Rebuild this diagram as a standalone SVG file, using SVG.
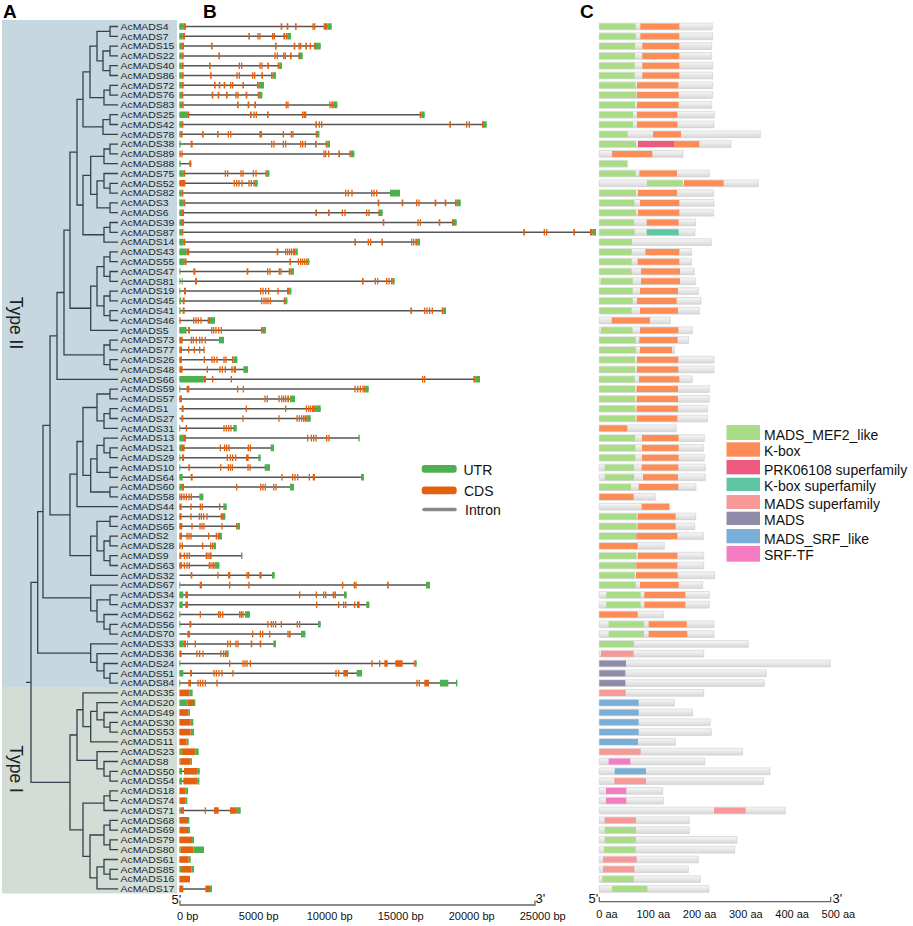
<svg xmlns="http://www.w3.org/2000/svg" width="913" height="926" viewBox="0 0 913 926">
<defs>
<linearGradient id="gb" x1="0" y1="0" x2="0" y2="1"><stop offset="0" stop-color="#f7f7f7"/><stop offset="1" stop-color="#d7d7d7"/></linearGradient>
<style>
.t{font-family:"Liberation Sans",Arial,sans-serif;font-size:8.7px;fill:#1e1e1e;transform:scale(1.2,1)}
.lg{font-family:"Liberation Sans",Arial,sans-serif;font-size:14px;fill:#111}
.ax{font-family:"Liberation Sans",Arial,sans-serif;font-size:11px;fill:#111;text-anchor:middle}
.pl{font-family:"Liberation Sans",Arial,sans-serif;font-size:19px;font-weight:bold;fill:#000}
.ty{font-family:"Liberation Sans",Arial,sans-serif;font-size:17.5px;fill:#222;text-anchor:middle}
.i{fill:none;stroke:#555;stroke-width:1.5}
.u{fill:none;stroke:#4cb04e;stroke-width:6.6}
.c{fill:none;stroke:#e2600f;stroke-width:6.6}
.b{fill:url(#gb);stroke:#cdcdcd;stroke-width:.6;vector-effect:non-scaling-stroke}
.mf,.kb,.pr,.ks,.ms,.md,.sr,.tf{fill:none;stroke-width:6}
.mf{stroke:#a9dc86}.kb{stroke:#fd8c57}.pr{stroke:#ee5a7e}.ks{stroke:#5fc5a2}.ms{stroke:#f79a97}.md{stroke:#8f8ba8}.sr{stroke:#7aaed6}.tf{stroke:#f57cc2}
.tree{fill:none;stroke:#33414b;stroke-width:1.3}
</style>
</defs>
<rect width="913" height="926" fill="#fff"/>
<g id="backgrounds">
<rect x="2" y="20" width="175" height="667" fill="#c7d7e0"/>
<rect x="2" y="687" width="175" height="206.5" fill="#d3ddd6"/>
<text class="ty" transform="translate(9.5 323) rotate(90)">Type II</text>
<text class="ty" transform="translate(9.5 769) rotate(90)">Type I</text>
</g>
<g id="panel-labels">
<text class="pl" x="3" y="18.3">A</text>
<text class="pl" x="203" y="18.3">B</text>
<text class="pl" x="580" y="18.3">C</text>
</g>
<g id="connectors" class="tree">
<path d="M118 26.5H110V36.3H118M118 46.1H110V55.9H118M118 65.7H110V75.5H118M110 51H103V70.6H110M110 31.4H97V60.8H103M118 85.3H110V95.1H118M110 90.2H104V104.9H118M97 46.1H90V97.55H104M118 114.7H110V124.5H118M110 119.6H103V134.3H118M90 71.8H83V126.95H103"/>
<path d="M118 144.1H110V153.9H118M110 149H104V163.7H118M118 183.3H110V193.1H118M118 173.5H104V188.2H110M118 202.9H110V212.7H118M104 180.85H97V207.8H110M104 156.35H90.7V194.3H97M118 222.5H110V232.3H118M110 227.4H104V242.1H118M90.7 175.3H83V234.75H104M83 99.4H77V205H83"/>
<path d="M118 251.9H110V261.7H118M118 271.5H110V281.3H118M110 256.8H104V276.4H110M118 291.1H110V300.9H118M118 310.7H110V320.5H118M110 296H104V315.6H110M104 266.6H97V305.8H104M97 286.2H90.7V330.3H118M77 152.2H70V308.25H90.7"/>
<path d="M118 340.1H110V349.9H118M118 359.7H110V369.5H118M110 345H104V364.6H110M70 230.2H64V354.8H104M64 292.5H57V379.3H118"/>
<path d="M118 389.1H110V398.9H118M118 408.7H110V418.5H118M110 413.6H104V428.3H118M110 394H97V420.95H104M118 447.9H110V457.7H118M118 438.1H104V452.8H110M118 467.5H110V477.3H118M104 445.45H97V472.4H110M118 487.1H110V496.9H118M97 458.9H90.7V492H110M97 407.5H83V475.45H90.7M83 441.5H77V506.7H118"/>
<path d="M118 516.5H110V526.3H118M118 536.1H110V545.9H118M118 555.7H110V565.5H118M110 541H104V560.6H110M110 521.4H97V550.8H104M97 536.1H90.7V575.3H118M77 474.1H70V555.7H90.7M57 335.9H50V514.9H70"/>
<path d="M118 594.9H110V604.7H118M118 624.3H110V634.1H118M118 614.5H104V629.2H110M110 599.8H97V621.85H104M118 585.1H90.7V610.8H97M50 425.4H43V597.95H90.7"/>
<path d="M118 673.3H110V683.1H118M118 663.5H104V678.2H110M118 653.7H97V670.85H104M118 643.9H90.7V662.3H97M43 511.7H37.7V653.1H90.7"/>
<path d="M118 722.3H110V732.1H118M118 712.5H104V727.2H110M118 702.7H97V719.85H104M97 711.3H90.7V741.9H118M118 692.9H83V726.6H90.7M118 771.3H110V781.1H118M118 761.5H104V776.2H110M118 751.7H97V768.85H104M83 709.75H77V760.3H97M118 790.9H110V800.7H118M110 795.8H104V810.5H118M118 820.3H110V830.1H118M118 839.9H110V849.7H118M110 825.2H104V844.8H110M118 869.3H110V879.1H118M118 859.5H104V874.2H110M104 866.85H97V888.9H118M104 835H90V877.9H97M104 803.15H83V856.45H90M77 735H70V829.8H83"/>
<path d="M37.7 582.4H31V782.4H70M31 682.4H26"/>
</g>
<g id="genes">
<g id="AcMADS4" transform="translate(0 26.5)"><text class="t" x="100.4" y="3.2">AcMADS4</text><g transform="matrix(.33333 0 0 1 170 0)"><path class="i" d="M28 0H485"/><path class="u" d="M28 0H40M472 0H485"/><path class="c" d="M40 0H48M332 0h5M350 0h5M375 0h5M427 0h4M432 0h4M461 0h4M465 0h7"/></g><g transform="matrix(.33333 0 0 1 590 0)"><rect class="b" x="28" y="-3.4" width="339" height="6.8"/><path class="mf" d="M28 0H137"/><path class="kb" d="M151 0H268"/></g></g>
<g id="AcMADS7" transform="translate(0 36.3)"><text class="t" x="100.4" y="3.2">AcMADS7</text><g transform="matrix(.33333 0 0 1 170 0)"><path class="i" d="M28 0H363"/><path class="u" d="M28 0H38M352 0H363"/><path class="c" d="M38 0H45M235 0h5M262 0h4M268 0h4M306 0h4M311 0h4M340 0h5M347 0h5"/></g><g transform="matrix(.33333 0 0 1 590 0)"><rect class="b" x="28" y="-3.4" width="340" height="6.8"/><path class="mf" d="M28 0H137"/><path class="kb" d="M151 0H268"/></g></g>
<g id="AcMADS15" transform="translate(0 46.1)"><text class="t" x="100.4" y="3.2">AcMADS15</text><g transform="matrix(.33333 0 0 1 170 0)"><path class="i" d="M28 0H452"/><path class="u" d="M28 0H36M438 0H452"/><path class="c" d="M36 0H42M123 0h5M315 0h5M371 0h5M385 0h4M390 0h4M406 0h5M419 0h4M432 0h6"/></g><g transform="matrix(.33333 0 0 1 590 0)"><rect class="b" x="28" y="-3.4" width="337" height="6.8"/><path class="mf" d="M28 0H135"/><path class="kb" d="M157 0H268"/></g></g>
<g id="AcMADS22" transform="translate(0 55.9)"><text class="t" x="100.4" y="3.2">AcMADS22</text><g transform="matrix(.33333 0 0 1 170 0)"><path class="i" d="M28 0H398"/><path class="u" d="M28 0H35M390 0H398"/><path class="c" d="M35 0H41M145 0h5M313 0h4M320 0h4M339 0h4M344 0h4M360 0h5M385 0h5"/></g><g transform="matrix(.33333 0 0 1 590 0)"><rect class="b" x="28" y="-3.4" width="337" height="6.8"/><path class="mf" d="M28 0H135"/><path class="kb" d="M157 0H268"/></g></g>
<g id="AcMADS40" transform="translate(0 65.7)"><text class="t" x="100.4" y="3.2">AcMADS40</text><g transform="matrix(.33333 0 0 1 170 0)"><path class="i" d="M28 0H336"/><path class="u" d="M28 0H35M328 0H336"/><path class="c" d="M35 0H41M117 0h5M206 0h4M213 0h4M268 0h4M274 0h4M292 0h5M323 0h5"/></g><g transform="matrix(.33333 0 0 1 590 0)"><rect class="b" x="28" y="-3.4" width="340" height="6.8"/><path class="mf" d="M28 0H134"/><path class="kb" d="M157 0H268"/></g></g>
<g id="AcMADS86" transform="translate(0 75.5)"><text class="t" x="100.4" y="3.2">AcMADS86</text><g transform="matrix(.33333 0 0 1 170 0)"><path class="i" d="M28 0H318"/><path class="u" d="M28 0H34M308 0H318"/><path class="c" d="M34 0H41M120 0h5M199 0h4M206 0h4M246 0h4M252 0h4M274 0h5M303 0h5"/></g><g transform="matrix(.33333 0 0 1 590 0)"><rect class="b" x="28" y="-3.4" width="340" height="6.8"/><path class="mf" d="M28 0H134"/><path class="kb" d="M157 0H268"/></g></g>
<g id="AcMADS72" transform="translate(0 85.3)"><text class="t" x="100.4" y="3.2">AcMADS72</text><g transform="matrix(.33333 0 0 1 170 0)"><path class="i" d="M28 0H282"/><path class="u" d="M28 0H35M266 0H282"/><path class="c" d="M35 0H41M132 0h5M146 0h5M161 0h5M180 0h4M186 0h4M217 0h5M261 0h5"/></g><g transform="matrix(.33333 0 0 1 590 0)"><rect class="b" x="28" y="-3.4" width="340" height="6.8"/><path class="mf" d="M28 0H137"/><path class="kb" d="M141 0H265"/></g></g>
<g id="AcMADS76" transform="translate(0 95.1)"><text class="t" x="100.4" y="3.2">AcMADS76</text><g transform="matrix(.33333 0 0 1 170 0)"><path class="i" d="M28 0H277"/><path class="u" d="M28 0H34M267 0H277"/><path class="c" d="M34 0H40M125 0h5M143 0h5M168 0h5M196 0h4M202 0h4M227 0h5M263 0h4"/></g><g transform="matrix(.33333 0 0 1 590 0)"><rect class="b" x="28" y="-3.4" width="340" height="6.8"/><path class="mf" d="M28 0H139"/><path class="kb" d="M141 0H266"/></g></g>
<g id="AcMADS83" transform="translate(0 104.9)"><text class="t" x="100.4" y="3.2">AcMADS83</text><g transform="matrix(.33333 0 0 1 170 0)"><path class="i" d="M28 0H502"/><path class="u" d="M28 0H34M490 0H502"/><path class="c" d="M34 0H41M201 0h5M233 0h5M253 0h5M347 0h4M352 0h4M478 0h4M484 0h6"/></g><g transform="matrix(.33333 0 0 1 590 0)"><rect class="b" x="28" y="-3.4" width="337" height="6.8"/><path class="mf" d="M28 0H135"/><path class="kb" d="M141 0H266"/></g></g>
<g id="AcMADS25" transform="translate(0 114.7)"><text class="t" x="100.4" y="3.2">AcMADS25</text><g transform="matrix(.33333 0 0 1 170 0)"><path class="i" d="M28 0H764"/><path class="u" d="M28 0H52M754 0H764"/><path class="c" d="M52 0H58M240 0h5M250 0h4M257 0h4M291 0h5M396 0h4M401 0h4M405 0h4M749 0h5"/></g><g transform="matrix(.33333 0 0 1 590 0)"><rect class="b" x="28" y="-3.4" width="345" height="6.8"/><path class="mf" d="M28 0H129"/><path class="kb" d="M141 0H262"/></g></g>
<g id="AcMADS42" transform="translate(0 124.5)"><text class="t" x="100.4" y="3.2">AcMADS42</text><g transform="matrix(.33333 0 0 1 170 0)"><path class="i" d="M28 0H950"/><path class="u" d="M28 0H34M942 0H950"/><path class="c" d="M34 0H40M436 0h5M446 0h4M453 0h4M838 0h5M888 0h4M896 0h4M936 0h6"/></g><g transform="matrix(.33333 0 0 1 590 0)"><rect class="b" x="28" y="-3.4" width="344" height="6.8"/><path class="mf" d="M28 0H129"/><path class="kb" d="M141 0H262"/></g></g>
<g id="AcMADS78" transform="translate(0 134.3)"><text class="t" x="100.4" y="3.2">AcMADS78</text><g transform="matrix(.33333 0 0 1 170 0)"><path class="i" d="M28 0H448"/><path class="u" d="M28 0H32M441 0H448"/><path class="c" d="M32 0H38M96 0h5M141 0h5M173 0h4M180 0h4M268 0h8M338 0h4M362 0h4M367 0h4M437 0h4"/></g><g transform="matrix(.33333 0 0 1 590 0)"><rect class="b" x="28" y="-3.4" width="483" height="6.8"/><path class="mf" d="M28 0H113"/><path class="kb" d="M189 0H273"/></g></g>
<g id="AcMADS38" transform="translate(0 144.1)"><text class="t" x="100.4" y="3.2">AcMADS38</text><g transform="matrix(.33333 0 0 1 170 0)"><path class="i" d="M28 0H480"/><path class="u" d="M28 0H32M472 0H480"/><path class="c" d="M62 0H68M303 0h4M310 0h4M338 0h4M345 0h4M390 0h4M396 0h4M404 0h4M435 0h5M467 0h5"/></g><g transform="matrix(.33333 0 0 1 590 0)"><rect class="b" x="28" y="-3.4" width="395" height="6.8"/><path class="mf" d="M28 0H138"/><path class="pr" d="M144 0H252"/><path class="kb" d="M252 0H328"/></g></g>
<g id="AcMADS89" transform="translate(0 153.9)"><text class="t" x="100.4" y="3.2">AcMADS89</text><g transform="matrix(.33333 0 0 1 170 0)"><path class="i" d="M28 0H553"/><path class="u" d="M542 0H553"/><path class="c" d="M28 0h4M34 0h4M460 0h4M465 0h4M474 0h4M505 0h5M538 0h4"/></g><g transform="matrix(.33333 0 0 1 590 0)"><rect class="b" x="28" y="-3.4" width="251" height="6.8"/><path class="kb" d="M66 0H187"/></g></g>
<g id="AcMADS88" transform="translate(0 163.7)"><text class="t" x="100.4" y="3.2">AcMADS88</text><g transform="matrix(.33333 0 0 1 170 0)"><path class="i" d="M28 0H64"/><path class="u" d="M28 0H32"/><path class="c" d="M58 0H64"/></g><g transform="matrix(.33333 0 0 1 590 0)"><rect class="b" x="28" y="-3.4" width="85" height="6.8"/><path class="mf" d="M28 0H111"/></g></g>
<g id="AcMADS75" transform="translate(0 173.5)"><text class="t" x="100.4" y="3.2">AcMADS75</text><g transform="matrix(.33333 0 0 1 170 0)"><path class="i" d="M28 0H298"/><path class="u" d="M28 0H40M290 0H298"/><path class="c" d="M40 0H46M164 0h4M171 0h4M211 0h4M217 0h4M248 0h4M256 0h4M286 0h4"/></g><g transform="matrix(.33333 0 0 1 590 0)"><rect class="b" x="28" y="-3.4" width="330" height="6.8"/><path class="mf" d="M28 0H137"/><path class="kb" d="M148 0H261"/></g></g>
<g id="AcMADS52" transform="translate(0 183.3)"><text class="t" x="100.4" y="3.2">AcMADS52</text><g transform="matrix(.33333 0 0 1 170 0)"><path class="i" d="M28 0H263"/><path class="u" d="M254 0H263"/><path class="c" d="M28 0H46M191 0h4M198 0h4M205 0h4M214 0h4M235 0h4M242 0h4M250 0h4"/></g><g transform="matrix(.33333 0 0 1 590 0)"><rect class="b" x="28" y="-3.4" width="477" height="6.8"/><path class="mf" d="M171 0H278"/><path class="kb" d="M282 0H401"/></g></g>
<g id="AcMADS82" transform="translate(0 193.1)"><text class="t" x="100.4" y="3.2">AcMADS82</text><g transform="matrix(.33333 0 0 1 170 0)"><path class="i" d="M28 0H690"/><path class="u" d="M28 0H35M660 0H690"/><path class="c" d="M35 0H40M525 0h4M533 0h4M544 0h4M603 0h4M610 0h4M618 0h4"/></g><g transform="matrix(.33333 0 0 1 590 0)"><rect class="b" x="28" y="-3.4" width="343" height="6.8"/><path class="mf" d="M28 0H138"/><path class="kb" d="M144 0H261"/></g></g>
<g id="AcMADS3" transform="translate(0 202.9)"><text class="t" x="100.4" y="3.2">AcMADS3</text><g transform="matrix(.33333 0 0 1 170 0)"><path class="i" d="M28 0H872"/><path class="u" d="M28 0H40M860 0H872"/><path class="c" d="M40 0H46M623 0h5M695 0h5M738 0h4M745 0h4M794 0h5M824 0h5M855 0h5"/></g><g transform="matrix(.33333 0 0 1 590 0)"><rect class="b" x="28" y="-3.4" width="344" height="6.8"/><path class="mf" d="M28 0H133"/><path class="kb" d="M150 0H268"/></g></g>
<g id="AcMADS6" transform="translate(0 212.7)"><text class="t" x="100.4" y="3.2">AcMADS6</text><g transform="matrix(.33333 0 0 1 170 0)"><path class="i" d="M28 0H638"/><path class="u" d="M28 0H36M630 0H638"/><path class="c" d="M36 0H42M436 0h5M474 0h5M515 0h4M523 0h4M588 0h4M595 0h4M625 0h5"/></g><g transform="matrix(.33333 0 0 1 590 0)"><rect class="b" x="28" y="-3.4" width="343" height="6.8"/><path class="mf" d="M28 0H138"/><path class="kb" d="M144 0H268"/></g></g>
<g id="AcMADS39" transform="translate(0 222.5)"><text class="t" x="100.4" y="3.2">AcMADS39</text><g transform="matrix(.33333 0 0 1 170 0)"><path class="i" d="M28 0H860"/><path class="u" d="M28 0H36M852 0H860"/><path class="c" d="M36 0H42M638 0h5M742 0h4M749 0h4M806 0h5M846 0h6"/></g><g transform="matrix(.33333 0 0 1 590 0)"><rect class="b" x="28" y="-3.4" width="289" height="6.8"/><path class="mf" d="M28 0H132"/><path class="kb" d="M170 0H266"/></g></g>
<g id="AcMADS87" transform="translate(0 232.3)"><text class="t" x="100.4" y="3.2">AcMADS87</text><g transform="matrix(.33333 0 0 1 170 0)"><path class="i" d="M28 0H1278"/><path class="u" d="M28 0H34M1268 0H1278"/><path class="c" d="M34 0H40M1060 0h5M1121 0h4M1128 0h4M1210 0h5M1260 0h8"/></g><g transform="matrix(.33333 0 0 1 590 0)"><rect class="b" x="28" y="-3.4" width="287" height="6.8"/><path class="mf" d="M28 0H134"/><path class="ks" d="M170 0H266"/></g></g>
<g id="AcMADS14" transform="translate(0 242.1)"><text class="t" x="100.4" y="3.2">AcMADS14</text><g transform="matrix(.33333 0 0 1 170 0)"><path class="i" d="M28 0H750"/><path class="u" d="M28 0H40M742 0H750"/><path class="c" d="M40 0H46M553 0h5M593 0h4M600 0h4M634 0h5M723 0h4M729 0h4M736 0h6"/></g><g transform="matrix(.33333 0 0 1 590 0)"><rect class="b" x="28" y="-3.4" width="336" height="6.8"/><path class="mf" d="M28 0H126"/></g></g>
<g id="AcMADS43" transform="translate(0 251.9)"><text class="t" x="100.4" y="3.2">AcMADS43</text><g transform="matrix(.33333 0 0 1 170 0)"><path class="i" d="M28 0H383"/><path class="u" d="M28 0H50M376 0H383"/><path class="c" d="M50 0H58M320 0h5M345 0h4M351 0h4M357 0h4M363 0h4M369 0h7"/></g><g transform="matrix(.33333 0 0 1 590 0)"><rect class="b" x="28" y="-3.4" width="277" height="6.8"/><path class="mf" d="M28 0H125"/><path class="kb" d="M166 0H268"/></g></g>
<g id="AcMADS55" transform="translate(0 261.7)"><text class="t" x="100.4" y="3.2">AcMADS55</text><g transform="matrix(.33333 0 0 1 170 0)"><path class="i" d="M28 0H418"/><path class="u" d="M28 0H44M412 0H418"/><path class="c" d="M44 0H50M358 0h5M383 0h4M390 0h4M396 0h4M402 0h4M408 0h4"/></g><g transform="matrix(.33333 0 0 1 590 0)"><rect class="b" x="28" y="-3.4" width="277" height="6.8"/><path class="mf" d="M28 0H125"/><path class="kb" d="M143 0H268"/></g></g>
<g id="AcMADS47" transform="translate(0 271.5)"><text class="t" x="100.4" y="3.2">AcMADS47</text><g transform="matrix(.33333 0 0 1 170 0)"><path class="i" d="M28 0H372"/><path class="u" d="M28 0H31M362 0H372"/><path class="c" d="M70 0H76M230 0h5M291 0h4M298 0h4M326 0h4M331 0h4M356 0h6"/></g><g transform="matrix(.33333 0 0 1 590 0)"><rect class="b" x="28" y="-3.4" width="285" height="6.8"/><path class="mf" d="M28 0H125"/><path class="kb" d="M153 0H270"/></g></g>
<g id="AcMADS81" transform="translate(0 281.3)"><text class="t" x="100.4" y="3.2">AcMADS81</text><g transform="matrix(.33333 0 0 1 170 0)"><path class="i" d="M28 0H674"/><path class="u" d="M28 0H31M35 0H38M668 0H674"/><path class="c" d="M75 0H81M576 0h5M614 0h4M621 0h4M648 0h4M655 0h4M663 0h5"/></g><g transform="matrix(.33333 0 0 1 590 0)"><rect class="b" x="28" y="-3.4" width="289" height="6.8"/><path class="mf" d="M32 0H128"/><path class="kb" d="M153 0H270"/></g></g>
<g id="AcMADS19" transform="translate(0 291.1)"><text class="t" x="100.4" y="3.2">AcMADS19</text><g transform="matrix(.33333 0 0 1 170 0)"><path class="i" d="M28 0H364"/><path class="u" d="M28 0H31M358 0H364"/><path class="c" d="M42 0H48M270 0h4M277 0h4M285 0h4M294 0h4M322 0h4M351 0h7"/></g><g transform="matrix(.33333 0 0 1 590 0)"><rect class="b" x="28" y="-3.4" width="297" height="6.8"/><path class="mf" d="M28 0H128"/><path class="kb" d="M150 0H264"/></g></g>
<g id="AcMADS45" transform="translate(0 300.9)"><text class="t" x="100.4" y="3.2">AcMADS45</text><g transform="matrix(.33333 0 0 1 170 0)"><path class="i" d="M28 0H352"/><path class="u" d="M28 0H33M347 0H352"/><path class="c" d="M38 0H44M273 0h4M280 0h4M286 0h4M292 0h4M299 0h4M341 0h6"/></g><g transform="matrix(.33333 0 0 1 590 0)"><rect class="b" x="28" y="-3.4" width="305" height="6.8"/><path class="mf" d="M28 0H128"/><path class="kb" d="M141 0H260"/></g></g>
<g id="AcMADS41" transform="translate(0 310.7)"><text class="t" x="100.4" y="3.2">AcMADS41</text><g transform="matrix(.33333 0 0 1 170 0)"><path class="i" d="M28 0H828"/><path class="u" d="M28 0H32M820 0H828"/><path class="c" d="M38 0H44M721 0h5M762 0h4M769 0h4M777 0h4M785 0h4M815 0h5"/></g><g transform="matrix(.33333 0 0 1 590 0)"><rect class="b" x="28" y="-3.4" width="300" height="6.8"/><path class="mf" d="M28 0H125"/><path class="kb" d="M150 0H264"/></g></g>
<g id="AcMADS46" transform="translate(0 320.5)"><text class="t" x="100.4" y="3.2">AcMADS46</text><g transform="matrix(.33333 0 0 1 170 0)"><path class="i" d="M28 0H135"/><path class="u" d="M120 0H135"/><path class="c" d="M28 0H32M69 0h4M76 0h4M83 0h4M91 0h4M113 0h7"/></g><g transform="matrix(.33333 0 0 1 590 0)"><rect class="b" x="28" y="-3.4" width="213" height="6.8"/><path class="kb" d="M65 0H180"/></g></g>
<g id="AcMADS5" transform="translate(0 330.3)"><text class="t" x="100.4" y="3.2">AcMADS5</text><g transform="matrix(.33333 0 0 1 170 0)"><path class="i" d="M28 0H288"/><path class="u" d="M28 0H50M278 0H288"/><path class="c" d="M54 0H60M123 0h4M129 0h4M136 0h4M144 0h4M152 0h4M273 0h5"/></g><g transform="matrix(.33333 0 0 1 590 0)"><rect class="b" x="28" y="-3.4" width="279" height="6.8"/><path class="mf" d="M33 0H128"/><path class="kb" d="M150 0H265"/></g></g>
<g id="AcMADS73" transform="translate(0 340.1)"><text class="t" x="100.4" y="3.2">AcMADS73</text><g transform="matrix(.33333 0 0 1 170 0)"><path class="i" d="M28 0H162"/><path class="u" d="M147 0H162"/><path class="c" d="M28 0H38M62 0h4M68 0h4M77 0h4M87 0h4M94 0h4M104 0h4"/></g><g transform="matrix(.33333 0 0 1 590 0)"><rect class="b" x="28" y="-3.4" width="268" height="6.8"/><path class="mf" d="M28 0H137"/><path class="kb" d="M148 0H263"/></g></g>
<g id="AcMADS77" transform="translate(0 349.9)"><text class="t" x="100.4" y="3.2">AcMADS77</text><g transform="matrix(.33333 0 0 1 170 0)"><path class="i" d="M28 0H104"/><path class="c" d="M28 0H36M54 0h4M71 0h4M87 0h4M100 0h4"/></g><g transform="matrix(.33333 0 0 1 590 0)"><rect class="b" x="28" y="-3.4" width="225" height="6.8"/><path class="mf" d="M28 0H137"/><path class="kb" d="M150 0H246"/></g></g>
<g id="AcMADS26" transform="translate(0 359.7)"><text class="t" x="100.4" y="3.2">AcMADS26</text><g transform="matrix(.33333 0 0 1 170 0)"><path class="i" d="M28 0H202"/><path class="u" d="M190 0H202"/><path class="c" d="M28 0H36M101 0h4M124 0h4M131 0h4M139 0h4M160 0h4M166 0h4M186 0h4"/></g><g transform="matrix(.33333 0 0 1 590 0)"><rect class="b" x="28" y="-3.4" width="344" height="6.8"/><path class="mf" d="M28 0H135"/><path class="kb" d="M141 0H265"/></g></g>
<g id="AcMADS48" transform="translate(0 369.5)"><text class="t" x="100.4" y="3.2">AcMADS48</text><g transform="matrix(.33333 0 0 1 170 0)"><path class="i" d="M28 0H234"/><path class="u" d="M220 0H234"/><path class="c" d="M28 0H38M110 0h4M148 0h4M155 0h4M164 0h4M184 0h4M191 0h4M194 0h4"/></g><g transform="matrix(.33333 0 0 1 590 0)"><rect class="b" x="28" y="-3.4" width="344" height="6.8"/><path class="mf" d="M28 0H135"/><path class="kb" d="M141 0H265"/></g></g>
<g id="AcMADS66" transform="translate(0 379.3)"><text class="t" x="100.4" y="3.2">AcMADS66</text><g transform="matrix(.33333 0 0 1 170 0)"><path class="i" d="M28 0H930"/><path class="u" d="M28 0H100M916 0H930"/><path class="c" d="M100 0H108M126 0h4M182 0h4M756 0h4M762 0h4M910 0h6"/></g><g transform="matrix(.33333 0 0 1 590 0)"><rect class="b" x="28" y="-3.4" width="279" height="6.8"/><path class="mf" d="M28 0H134"/><path class="kb" d="M147 0H268"/></g></g>
<g id="AcMADS59" transform="translate(0 389.1)"><text class="t" x="100.4" y="3.2">AcMADS59</text><g transform="matrix(.33333 0 0 1 170 0)"><path class="i" d="M28 0H596"/><path class="u" d="M28 0H31M586 0H596"/><path class="c" d="M50 0H58M201 0h4M218 0h4M553 0h4M561 0h4M569 0h4M577 0h4M582 0h4"/></g><g transform="matrix(.33333 0 0 1 590 0)"><rect class="b" x="28" y="-3.4" width="330" height="6.8"/><path class="mf" d="M28 0H135"/><path class="kb" d="M140 0H264"/></g></g>
<g id="AcMADS57" transform="translate(0 398.9)"><text class="t" x="100.4" y="3.2">AcMADS57</text><g transform="matrix(.33333 0 0 1 170 0)"><path class="i" d="M28 0H375"/><path class="u" d="M360 0H375"/><path class="c" d="M28 0H36M283 0h4M290 0h4M325 0h4M333 0h4M339 0h4M345 0h4M352 0h5"/></g><g transform="matrix(.33333 0 0 1 590 0)"><rect class="b" x="28" y="-3.4" width="330" height="6.8"/><path class="mf" d="M28 0H135"/><path class="kb" d="M140 0H264"/></g></g>
<g id="AcMADS1" transform="translate(0 408.7)"><text class="t" x="100.4" y="3.2">AcMADS1</text><g transform="matrix(.33333 0 0 1 170 0)"><path class="i" d="M28 0H452"/><path class="u" d="M436 0H452"/><path class="c" d="M35 0H41M227 0h4M345 0h4M407 0h4M414 0h4M420 0h4M426 0h4M430 0h6"/></g><g transform="matrix(.33333 0 0 1 590 0)"><rect class="b" x="28" y="-3.4" width="325" height="6.8"/><path class="mf" d="M28 0H136"/><path class="kb" d="M140 0H264"/></g></g>
<g id="AcMADS27" transform="translate(0 418.5)"><text class="t" x="100.4" y="3.2">AcMADS27</text><g transform="matrix(.33333 0 0 1 170 0)"><path class="i" d="M28 0H422"/><path class="u" d="M410 0H422"/><path class="c" d="M34 0H40M217 0h4M325 0h4M379 0h4M386 0h4M393 0h4M399 0h4M404 0h6"/></g><g transform="matrix(.33333 0 0 1 590 0)"><rect class="b" x="28" y="-3.4" width="325" height="6.8"/><path class="mf" d="M28 0H136"/><path class="kb" d="M140 0H262"/></g></g>
<g id="AcMADS31" transform="translate(0 428.3)"><text class="t" x="100.4" y="3.2">AcMADS31</text><g transform="matrix(.33333 0 0 1 170 0)"><path class="i" d="M28 0H200"/><path class="u" d="M28 0H31M190 0H200"/><path class="c" d="M47 0h4M160 0h4M167 0h4M174 0h4M181 0h4"/></g><g transform="matrix(.33333 0 0 1 590 0)"><rect class="b" x="28" y="-3.4" width="231" height="6.8"/><path class="kb" d="M28 0H112"/></g></g>
<g id="AcMADS13" transform="translate(0 438.1)"><text class="t" x="100.4" y="3.2">AcMADS13</text><g transform="matrix(.33333 0 0 1 170 0)"><path class="i" d="M28 0H569"/><path class="u" d="M28 0H42M565 0H569"/><path class="c" d="M42 0H48M411 0h4M422 0h4M429 0h4M436 0h4M468 0h4M475 0h4"/></g><g transform="matrix(.33333 0 0 1 590 0)"><rect class="b" x="28" y="-3.4" width="315" height="6.8"/><path class="mf" d="M28 0H135"/><path class="kb" d="M156 0H266"/></g></g>
<g id="AcMADS21" transform="translate(0 447.9)"><text class="t" x="100.4" y="3.2">AcMADS21</text><g transform="matrix(.33333 0 0 1 170 0)"><path class="i" d="M28 0H312"/><path class="u" d="M28 0H36M302 0H312"/><path class="c" d="M36 0H44M149 0h4M162 0h4M168 0h4M175 0h4M233 0h4M239 0h4"/></g><g transform="matrix(.33333 0 0 1 590 0)"><rect class="b" x="28" y="-3.4" width="313" height="6.8"/><path class="mf" d="M28 0H136"/><path class="kb" d="M156 0H266"/></g></g>
<g id="AcMADS29" transform="translate(0 457.7)"><text class="t" x="100.4" y="3.2">AcMADS29</text><g transform="matrix(.33333 0 0 1 170 0)"><path class="i" d="M28 0H272"/><path class="u" d="M28 0H31M265 0H272"/><path class="c" d="M36 0H42M170 0h4M179 0h4M186 0h4M195 0h4M228 0h4M232 0h4"/></g><g transform="matrix(.33333 0 0 1 590 0)"><rect class="b" x="28" y="-3.4" width="315" height="6.8"/><path class="mf" d="M28 0H136"/><path class="kb" d="M156 0H266"/></g></g>
<g id="AcMADS10" transform="translate(0 467.5)"><text class="t" x="100.4" y="3.2">AcMADS10</text><g transform="matrix(.33333 0 0 1 170 0)"><path class="i" d="M28 0H300"/><path class="u" d="M28 0H31M284 0H300"/><path class="c" d="M55 0H60M150 0h4M173 0h4M179 0h4M185 0h4M232 0h4M238 0h4"/></g><g transform="matrix(.33333 0 0 1 590 0)"><rect class="b" x="28" y="-3.4" width="318" height="6.8"/><path class="mf" d="M44 0H132"/><path class="kb" d="M155 0H265"/></g></g>
<g id="AcMADS64" transform="translate(0 477.3)"><text class="t" x="100.4" y="3.2">AcMADS64</text><g transform="matrix(.33333 0 0 1 170 0)"><path class="i" d="M28 0H582"/><path class="u" d="M28 0H38M573 0H582"/><path class="c" d="M62 0H68M334 0h4M366 0h4M373 0h4M381 0h4M416 0h4M428 0h7"/></g><g transform="matrix(.33333 0 0 1 590 0)"><rect class="b" x="28" y="-3.4" width="318" height="6.8"/><path class="mf" d="M44 0H132"/><path class="kb" d="M159 0H264"/></g></g>
<g id="AcMADS60" transform="translate(0 487.1)"><text class="t" x="100.4" y="3.2">AcMADS60</text><g transform="matrix(.33333 0 0 1 170 0)"><path class="i" d="M28 0H372"/><path class="u" d="M28 0H34M360 0H372"/><path class="c" d="M34 0H42M198 0h4M270 0h4M277 0h4M284 0h4M309 0h4M316 0h4"/></g><g transform="matrix(.33333 0 0 1 590 0)"><rect class="b" x="28" y="-3.4" width="290" height="6.8"/><path class="mf" d="M28 0H123"/><path class="kb" d="M146 0H265"/></g></g>
<g id="AcMADS58" transform="translate(0 496.9)"><text class="t" x="100.4" y="3.2">AcMADS58</text><g transform="matrix(.33333 0 0 1 170 0)"><path class="i" d="M28 0H100"/><path class="u" d="M88 0H100"/><path class="c" d="M28 0h4M33 0h4M40 0h4M47 0h4M55 0h4M62 0h4"/></g><g transform="matrix(.33333 0 0 1 590 0)"><rect class="b" x="28" y="-3.4" width="168" height="6.8"/><path class="kb" d="M28 0H131"/></g></g>
<g id="AcMADS44" transform="translate(0 506.7)"><text class="t" x="100.4" y="3.2">AcMADS44</text><g transform="matrix(.33333 0 0 1 170 0)"><path class="i" d="M28 0H170"/><path class="u" d="M160 0H170"/><path class="c" d="M28 0H35M61 0h4M89 0h4M95 0h4M147 0h4"/></g><g transform="matrix(.33333 0 0 1 590 0)"><rect class="b" x="28" y="-3.4" width="210" height="6.8"/><path class="kb" d="M155 0H238"/></g></g>
<g id="AcMADS12" transform="translate(0 516.5)"><text class="t" x="100.4" y="3.2">AcMADS12</text><g transform="matrix(.33333 0 0 1 170 0)"><path class="i" d="M28 0H166"/><path class="u" d="M159 0H166"/><path class="c" d="M28 0H35M61 0h4M86 0h4M92 0h4M99 0h4M109 0h4M152 0h4M156 0h3"/></g><g transform="matrix(.33333 0 0 1 590 0)"><rect class="b" x="28" y="-3.4" width="289" height="6.8"/><path class="mf" d="M28 0H140"/><path class="kb" d="M143 0H257"/></g></g>
<g id="AcMADS65" transform="translate(0 526.3)"><text class="t" x="100.4" y="3.2">AcMADS65</text><g transform="matrix(.33333 0 0 1 170 0)"><path class="i" d="M28 0H210"/><path class="u" d="M203 0H210"/><path class="c" d="M28 0H37M64 0h4M88 0h4M94 0h4M100 0h4M154 0h4M198 0h5"/></g><g transform="matrix(.33333 0 0 1 590 0)"><rect class="b" x="28" y="-3.4" width="286" height="6.8"/><path class="mf" d="M28 0H140"/><path class="kb" d="M143 0H257"/></g></g>
<g id="AcMADS2" transform="translate(0 536.1)"><text class="t" x="100.4" y="3.2">AcMADS2</text><g transform="matrix(.33333 0 0 1 170 0)"><path class="i" d="M28 0H156"/><path class="u" d="M150 0H156"/><path class="c" d="M28 0H36M49 0h4M55 0h4M61 0h4M114 0h4M137 0h4M143 0h7"/></g><g transform="matrix(.33333 0 0 1 590 0)"><rect class="b" x="28" y="-3.4" width="313" height="6.8"/><path class="mf" d="M28 0H139"/><path class="kb" d="M139 0H262"/></g></g>
<g id="AcMADS28" transform="translate(0 545.9)"><text class="t" x="100.4" y="3.2">AcMADS28</text><g transform="matrix(.33333 0 0 1 170 0)"><path class="i" d="M28 0H138"/><path class="u" d="M132 0H138"/><path class="c" d="M28 0h4M35 0h4M96 0h4M120 0h4M126 0h5"/></g><g transform="matrix(.33333 0 0 1 590 0)"><rect class="b" x="28" y="-3.4" width="195" height="6.8"/><path class="kb" d="M28 0H143"/></g></g>
<g id="AcMADS9" transform="translate(0 555.7)"><text class="t" x="100.4" y="3.2">AcMADS9</text><g transform="matrix(.33333 0 0 1 170 0)"><path class="i" d="M28 0H217"/><path class="u" d="M213 0H217"/><path class="c" d="M28 0H34M41 0h4M49 0h4M56 0h4M107 0h4M112 0h4M118 0h7"/></g><g transform="matrix(.33333 0 0 1 590 0)"><rect class="b" x="28" y="-3.4" width="313" height="6.8"/><path class="mf" d="M28 0H139"/><path class="kb" d="M144 0H262"/></g></g>
<g id="AcMADS63" transform="translate(0 565.5)"><text class="t" x="100.4" y="3.2">AcMADS63</text><g transform="matrix(.33333 0 0 1 170 0)"><path class="i" d="M28 0H148"/><path class="u" d="M135 0H148"/><path class="c" d="M28 0H36M41 0h4M49 0h4M56 0h4M116 0h4M121 0h4M127 0h7"/></g><g transform="matrix(.33333 0 0 1 590 0)"><rect class="b" x="28" y="-3.4" width="313" height="6.8"/><path class="mf" d="M28 0H138"/><path class="kb" d="M139 0H262"/></g></g>
<g id="AcMADS32" transform="translate(0 575.3)"><text class="t" x="100.4" y="3.2">AcMADS32</text><g transform="matrix(.33333 0 0 1 170 0)"><path class="i" d="M28 0H314"/><path class="u" d="M306 0H314"/><path class="c" d="M62 0H67M142 0h4M174 0h4M178 0h3M229 0h4M234 0h4M268 0h7"/></g><g transform="matrix(.33333 0 0 1 590 0)"><rect class="b" x="28" y="-3.4" width="346" height="6.8"/><path class="mf" d="M28 0H134"/><path class="kb" d="M138 0H263"/></g></g>
<g id="AcMADS67" transform="translate(0 585.1)"><text class="t" x="100.4" y="3.2">AcMADS67</text><g transform="matrix(.33333 0 0 1 170 0)"><path class="i" d="M28 0H780"/><path class="u" d="M28 0H31M768 0H780"/><path class="c" d="M89 0H96M177 0h4M235 0h4M516 0h4M551 0h4M556 0h4M651 0h5"/></g><g transform="matrix(.33333 0 0 1 590 0)"><rect class="b" x="28" y="-3.4" width="310" height="6.8"/><path class="mf" d="M28 0H137"/><path class="kb" d="M150 0H266"/></g></g>
<g id="AcMADS34" transform="translate(0 594.9)"><text class="t" x="100.4" y="3.2">AcMADS34</text><g transform="matrix(.33333 0 0 1 170 0)"><path class="i" d="M28 0H530"/><path class="u" d="M28 0H40M522 0H530"/><path class="c" d="M46 0H54M387 0h4M437 0h4M459 0h4M465 0h4M488 0h4M493 0h5"/></g><g transform="matrix(.33333 0 0 1 590 0)"><rect class="b" x="28" y="-3.4" width="330" height="6.8"/><path class="mf" d="M49 0H152"/><path class="kb" d="M163 0H286"/></g></g>
<g id="AcMADS37" transform="translate(0 604.7)"><text class="t" x="100.4" y="3.2">AcMADS37</text><g transform="matrix(.33333 0 0 1 170 0)"><path class="i" d="M28 0H598"/><path class="u" d="M28 0H38M589 0H598"/><path class="c" d="M46 0H54M438 0h4M504 0h4M519 0h4M525 0h4M552 0h4M561 0h5M566 0h3"/></g><g transform="matrix(.33333 0 0 1 590 0)"><rect class="b" x="28" y="-3.4" width="330" height="6.8"/><path class="mf" d="M49 0H152"/><path class="kb" d="M163 0H286"/></g></g>
<g id="AcMADS62" transform="translate(0 614.5)"><text class="t" x="100.4" y="3.2">AcMADS62</text><g transform="matrix(.33333 0 0 1 170 0)"><path class="i" d="M28 0H240"/><path class="u" d="M28 0H31M225 0H240"/><path class="c" d="M89 0h4M144 0h4M149 0h4M156 0h4M207 0h4M212 0h4M217 0h4"/></g><g transform="matrix(.33333 0 0 1 590 0)"><rect class="b" x="28" y="-3.4" width="192" height="6.8"/><path class="kb" d="M28 0H143"/></g></g>
<g id="AcMADS56" transform="translate(0 624.3)"><text class="t" x="100.4" y="3.2">AcMADS56</text><g transform="matrix(.33333 0 0 1 170 0)"><path class="i" d="M28 0H452"/><path class="u" d="M28 0H31M444 0H452"/><path class="c" d="M58 0H64M292 0h4M302 0h4M308 0h4M315 0h4M332 0h4M380 0h4M387 0h4"/></g><g transform="matrix(.33333 0 0 1 590 0)"><rect class="b" x="28" y="-3.4" width="344" height="6.8"/><path class="mf" d="M56 0H162"/><path class="kb" d="M176 0H290"/></g></g>
<g id="AcMADS70" transform="translate(0 634.1)"><text class="t" x="100.4" y="3.2">AcMADS70</text><g transform="matrix(.33333 0 0 1 170 0)"><path class="i" d="M28 0H406"/><path class="u" d="M393 0H406"/><path class="c" d="M52 0H60M246 0h4M269 0h4M276 0h4M297 0h4M352 0h4M357 0h5"/></g><g transform="matrix(.33333 0 0 1 590 0)"><rect class="b" x="28" y="-3.4" width="344" height="6.8"/><path class="mf" d="M56 0H162"/><path class="kb" d="M176 0H292"/></g></g>
<g id="AcMADS33" transform="translate(0 643.9)"><text class="t" x="100.4" y="3.2">AcMADS33</text><g transform="matrix(.33333 0 0 1 170 0)"><path class="i" d="M28 0H318"/><path class="u" d="M28 0H40M310 0H318"/><path class="c" d="M40 0H48M51 0h3M74 0h4M171 0h4M179 0h4M196 0h4M202 0h4M242 0h5M269 0h5"/></g><g transform="matrix(.33333 0 0 1 590 0)"><rect class="b" x="28" y="-3.4" width="447" height="6.8"/><path class="mf" d="M28 0H132"/></g></g>
<g id="AcMADS36" transform="translate(0 653.7)"><text class="t" x="100.4" y="3.2">AcMADS36</text><g transform="matrix(.33333 0 0 1 170 0)"><path class="i" d="M28 0H176"/><path class="u" d="M170 0H176"/><path class="c" d="M28 0H35M79 0h4M87 0h4M97 0h4M151 0h4M159 0h4M165 0h5"/></g><g transform="matrix(.33333 0 0 1 590 0)"><rect class="b" x="28" y="-3.4" width="313" height="6.8"/><path class="ms" d="M33 0H131"/></g></g>
<g id="AcMADS24" transform="translate(0 663.5)"><text class="t" x="100.4" y="3.2">AcMADS24</text><g transform="matrix(.33333 0 0 1 170 0)"><path class="i" d="M28 0H740"/><path class="u" d="M28 0H31M735 0H740"/><path class="c" d="M177 0h4M217 0h4M223 0h4M229 0h4M239 0h4M604 0h4M627 0h4M643 0H653M676 0H698M731 0h3"/></g><g transform="matrix(.33333 0 0 1 590 0)"><rect class="b" x="28" y="-3.4" width="693" height="6.8"/><path class="md" d="M28 0H108"/></g></g>
<g id="AcMADS51" transform="translate(0 673.3)"><text class="t" x="100.4" y="3.2">AcMADS51</text><g transform="matrix(.33333 0 0 1 170 0)"><path class="i" d="M28 0H576"/><path class="u" d="M28 0H40M560 0H576"/><path class="c" d="M60 0H66M130 0h4M137 0h4M145 0h4M154 0h4M187 0h4M496 0h4M504 0h4M520 0H534"/></g><g transform="matrix(.33333 0 0 1 590 0)"><rect class="b" x="28" y="-3.4" width="501" height="6.8"/><path class="md" d="M28 0H106"/></g></g>
<g id="AcMADS84" transform="translate(0 683.1)"><text class="t" x="100.4" y="3.2">AcMADS84</text><g transform="matrix(.33333 0 0 1 170 0)"><path class="i" d="M28 0H862"/><path class="u" d="M28 0H31M810 0H835M858 0H862"/><path class="c" d="M55 0H63M82 0h4M89 0h4M96 0h4M104 0h4M139 0h4M739 0h4M746 0h4M763 0H777"/></g><g transform="matrix(.33333 0 0 1 590 0)"><rect class="b" x="28" y="-3.4" width="495" height="6.8"/><path class="md" d="M28 0H106"/></g></g>
<g id="AcMADS35" transform="translate(0 692.9)"><text class="t" x="100.4" y="3.2">AcMADS35</text><g transform="matrix(.33333 0 0 1 170 0)"><path class="u" d="M58 0H68"/><path class="c" d="M28 0H58"/></g><g transform="matrix(.33333 0 0 1 590 0)"><rect class="b" x="28" y="-3.4" width="313" height="6.8"/><path class="ms" d="M28 0H107"/></g></g>
<g id="AcMADS20" transform="translate(0 702.7)"><text class="t" x="100.4" y="3.2">AcMADS20</text><g transform="matrix(.33333 0 0 1 170 0)"><path class="u" d="M28 0H52M72 0H76"/><path class="c" d="M52 0H72"/></g><g transform="matrix(.33333 0 0 1 590 0)"><rect class="b" x="28" y="-3.4" width="225" height="6.8"/><path class="sr" d="M28 0H146"/></g></g>
<g id="AcMADS49" transform="translate(0 712.5)"><text class="t" x="100.4" y="3.2">AcMADS49</text><g transform="matrix(.33333 0 0 1 170 0)"><path class="u" d="M55 0H60"/><path class="c" d="M28 0H55"/></g><g transform="matrix(.33333 0 0 1 590 0)"><rect class="b" x="28" y="-3.4" width="280" height="6.8"/><path class="sr" d="M28 0H146"/></g></g>
<g id="AcMADS30" transform="translate(0 722.3)"><text class="t" x="100.4" y="3.2">AcMADS30</text><g transform="matrix(.33333 0 0 1 170 0)"><path class="u" d="M62 0H70"/><path class="c" d="M28 0H62"/></g><g transform="matrix(.33333 0 0 1 590 0)"><rect class="b" x="28" y="-3.4" width="333" height="6.8"/><path class="sr" d="M28 0H146"/></g></g>
<g id="AcMADS53" transform="translate(0 732.1)"><text class="t" x="100.4" y="3.2">AcMADS53</text><g transform="matrix(.33333 0 0 1 170 0)"><path class="u" d="M62 0H72"/><path class="c" d="M28 0H62"/></g><g transform="matrix(.33333 0 0 1 590 0)"><rect class="b" x="28" y="-3.4" width="336" height="6.8"/><path class="sr" d="M28 0H146"/></g></g>
<g id="AcMADS11" transform="translate(0 741.9)"><text class="t" x="100.4" y="3.2">AcMADS11</text><g transform="matrix(.33333 0 0 1 170 0)"><path class="u" d="M50 0H56"/><path class="c" d="M28 0H50"/></g><g transform="matrix(.33333 0 0 1 590 0)"><rect class="b" x="28" y="-3.4" width="228" height="6.8"/><path class="sr" d="M28 0H144"/></g></g>
<g id="AcMADS23" transform="translate(0 751.7)"><text class="t" x="100.4" y="3.2">AcMADS23</text><g transform="matrix(.33333 0 0 1 170 0)"><path class="u" d="M28 0H34M76 0H86"/><path class="c" d="M34 0H76"/></g><g transform="matrix(.33333 0 0 1 590 0)"><rect class="b" x="28" y="-3.4" width="430" height="6.8"/><path class="ms" d="M28 0H152"/></g></g>
<g id="AcMADS8" transform="translate(0 761.5)"><text class="t" x="100.4" y="3.2">AcMADS8</text><g transform="matrix(.33333 0 0 1 170 0)"><path class="u" d="M28 0H31M62 0H66"/><path class="c" d="M31 0H62"/></g><g transform="matrix(.33333 0 0 1 590 0)"><rect class="b" x="28" y="-3.4" width="316" height="6.8"/><path class="tf" d="M56 0H121"/></g></g>
<g id="AcMADS50" transform="translate(0 771.3)"><text class="t" x="100.4" y="3.2">AcMADS50</text><g transform="matrix(.33333 0 0 1 170 0)"><path class="i" d="M28 0H89"/><path class="u" d="M28 0H36M82 0H89"/><path class="c" d="M42 0H82"/></g><g transform="matrix(.33333 0 0 1 590 0)"><rect class="b" x="28" y="-3.4" width="512" height="6.8"/><path class="sr" d="M74 0H168"/></g></g>
<g id="AcMADS54" transform="translate(0 781.1)"><text class="t" x="100.4" y="3.2">AcMADS54</text><g transform="matrix(.33333 0 0 1 170 0)"><path class="i" d="M28 0H88"/><path class="u" d="M28 0H36M82 0H88"/><path class="c" d="M40 0H82"/></g><g transform="matrix(.33333 0 0 1 590 0)"><rect class="b" x="28" y="-3.4" width="493" height="6.8"/><path class="ms" d="M73 0H168"/></g></g>
<g id="AcMADS18" transform="translate(0 790.9)"><text class="t" x="100.4" y="3.2">AcMADS18</text><g transform="matrix(.33333 0 0 1 170 0)"><path class="u" d="M46 0H54"/><path class="c" d="M28 0H46"/></g><g transform="matrix(.33333 0 0 1 590 0)"><rect class="b" x="28" y="-3.4" width="190" height="6.8"/><path class="tf" d="M48 0H109"/></g></g>
<g id="AcMADS74" transform="translate(0 800.7)"><text class="t" x="100.4" y="3.2">AcMADS74</text><g transform="matrix(.33333 0 0 1 170 0)"><path class="u" d="M46 0H52"/><path class="c" d="M28 0H46"/></g><g transform="matrix(.33333 0 0 1 590 0)"><rect class="b" x="28" y="-3.4" width="192" height="6.8"/><path class="tf" d="M48 0H109"/></g></g>
<g id="AcMADS71" transform="translate(0 810.5)"><text class="t" x="100.4" y="3.2">AcMADS71</text><g transform="matrix(.33333 0 0 1 170 0)"><path class="i" d="M28 0H212"/><path class="u" d="M28 0H32M200 0H212"/><path class="c" d="M32 0H42M104 0H108M132 0H146M180 0H200"/></g><g transform="matrix(.33333 0 0 1 590 0)"><rect class="b" x="28" y="-3.4" width="558" height="6.8"/><path class="ms" d="M372 0H467"/></g></g>
<g id="AcMADS68" transform="translate(0 820.3)"><text class="t" x="100.4" y="3.2">AcMADS68</text><g transform="matrix(.33333 0 0 1 170 0)"><path class="u" d="M54 0H58"/><path class="c" d="M28 0H54"/></g><g transform="matrix(.33333 0 0 1 590 0)"><rect class="b" x="28" y="-3.4" width="270" height="6.8"/><path class="ms" d="M44 0H138"/></g></g>
<g id="AcMADS69" transform="translate(0 830.1)"><text class="t" x="100.4" y="3.2">AcMADS69</text><g transform="matrix(.33333 0 0 1 170 0)"><path class="u" d="M54 0H60"/><path class="c" d="M28 0H54"/></g><g transform="matrix(.33333 0 0 1 590 0)"><rect class="b" x="28" y="-3.4" width="270" height="6.8"/><path class="mf" d="M44 0H138"/></g></g>
<g id="AcMADS79" transform="translate(0 839.9)"><text class="t" x="100.4" y="3.2">AcMADS79</text><g transform="matrix(.33333 0 0 1 170 0)"><path class="u" d="M66 0H72"/><path class="c" d="M28 0H66"/></g><g transform="matrix(.33333 0 0 1 590 0)"><rect class="b" x="28" y="-3.4" width="413" height="6.8"/><path class="mf" d="M44 0H138"/></g></g>
<g id="AcMADS80" transform="translate(0 849.7)"><text class="t" x="100.4" y="3.2">AcMADS80</text><g transform="matrix(.33333 0 0 1 170 0)"><path class="u" d="M28 0H32M70 0H102"/><path class="c" d="M32 0H70"/></g><g transform="matrix(.33333 0 0 1 590 0)"><rect class="b" x="28" y="-3.4" width="406" height="6.8"/><path class="mf" d="M42 0H137"/></g></g>
<g id="AcMADS61" transform="translate(0 859.5)"><text class="t" x="100.4" y="3.2">AcMADS61</text><g transform="matrix(.33333 0 0 1 170 0)"><path class="u" d="M56 0H62"/><path class="c" d="M28 0H56"/></g><g transform="matrix(.33333 0 0 1 590 0)"><rect class="b" x="28" y="-3.4" width="297" height="6.8"/><path class="ms" d="M39 0H140"/></g></g>
<g id="AcMADS85" transform="translate(0 869.3)"><text class="t" x="100.4" y="3.2">AcMADS85</text><g transform="matrix(.33333 0 0 1 170 0)"><path class="u" d="M28 0H36M64 0H72"/><path class="c" d="M36 0H64"/></g><g transform="matrix(.33333 0 0 1 590 0)"><rect class="b" x="28" y="-3.4" width="267" height="6.8"/><path class="ms" d="M39 0H133"/></g></g>
<g id="AcMADS16" transform="translate(0 879.1)"><text class="t" x="100.4" y="3.2">AcMADS16</text><g transform="matrix(.33333 0 0 1 170 0)"><path class="c" d="M28 0H60"/></g><g transform="matrix(.33333 0 0 1 590 0)"><rect class="b" x="28" y="-3.4" width="303" height="6.8"/><path class="mf" d="M37 0H131"/></g></g>
<g id="AcMADS17" transform="translate(0 888.9)"><text class="t" x="100.4" y="3.2">AcMADS17</text><g transform="matrix(.33333 0 0 1 170 0)"><path class="i" d="M28 0H126"/><path class="u" d="M120 0H126"/><path class="c" d="M28 0H40M106 0H120"/></g><g transform="matrix(.33333 0 0 1 590 0)"><rect class="b" x="28" y="-3.4" width="329" height="6.8"/><path class="mf" d="M66 0H172"/></g></g>
</g>
<g id="axis-b">
<path d="M180 900.5V905H535V900.5" fill="none" stroke="#666" stroke-width="1.3"/>
<text class="lg" x="171.5" y="904" style="font-size:13px">5'</text>
<text class="lg" x="535.5" y="903" style="font-size:13px">3'</text>
<text class="ax" x="187.7" y="920">0 bp</text>
<text class="ax" x="258.7" y="920">5000 bp</text>
<text class="ax" x="329.7" y="920">10000 bp</text>
<text class="ax" x="400.7" y="920">15000 bp</text>
<text class="ax" x="471.7" y="920">20000 bp</text>
<text class="ax" x="542.7" y="920">25000 bp</text>
</g>
<g id="axis-c">
<path d="M599.3 897V901.7H830.7V897" fill="none" stroke="#666" stroke-width="1.3"/>
<text class="lg" x="588.5" y="903" style="font-size:13px">5'</text>
<text class="lg" x="832.5" y="903" style="font-size:13px">3'</text>
<text class="ax" x="607" y="918">0 aa</text>
<text class="ax" x="653.3" y="918">100 aa</text>
<text class="ax" x="699.6" y="918">200 aa</text>
<text class="ax" x="745.8" y="918">300 aa</text>
<text class="ax" x="792.1" y="918">400 aa</text>
<text class="ax" x="838.4" y="918">500 aa</text>
</g>
<g id="legend-b">
<rect x="421.7" y="465" width="35" height="7.7" rx="3" fill="#4cb04e"/>
<text class="lg" x="463.5" y="475">UTR</text>
<rect x="421.7" y="486.5" width="35" height="7.7" rx="3" fill="#e2600f"/>
<text class="lg" x="464" y="495.5">CDS</text>
<path d="M424 509.5H455" stroke="#888" stroke-width="3.6" stroke-linecap="round"/>
<text class="lg" x="465" y="515">Intron</text>
</g>
<g id="legend-c">
<rect x="726.5" y="425" width="33.5" height="15" fill="#a9dc86"/><text class="lg" x="764" y="440">MADS_MEF2_like</text>
<rect x="726.5" y="442.3" width="33.5" height="14.4" fill="#fd8c57"/><text class="lg" x="764" y="455.8">K-box</text>
<rect x="726.5" y="460" width="33.5" height="14.3" fill="#ee5a7e"/><text class="lg" x="764" y="474.5">PRK06108 superfamily</text>
<rect x="726.5" y="477.7" width="33.5" height="13.3" fill="#5fc5a2"/><text class="lg" x="764" y="491.3">K-box superfamily</text>
<rect x="726.5" y="495" width="33.5" height="14" fill="#f79a97"/><text class="lg" x="764" y="508.5">MADS superfamily</text>
<rect x="726.5" y="511.7" width="33.5" height="13.3" fill="#8f8ba8"/><text class="lg" x="764" y="525">MADS</text>
<rect x="726.5" y="529" width="33.5" height="14.3" fill="#7aaed6"/><text class="lg" x="764" y="543.5">MADS_SRF_like</text>
<rect x="726.5" y="546" width="33.5" height="15.7" fill="#f57cc2"/><text class="lg" x="764" y="559.5">SRF-TF</text>
</g>
</svg>
